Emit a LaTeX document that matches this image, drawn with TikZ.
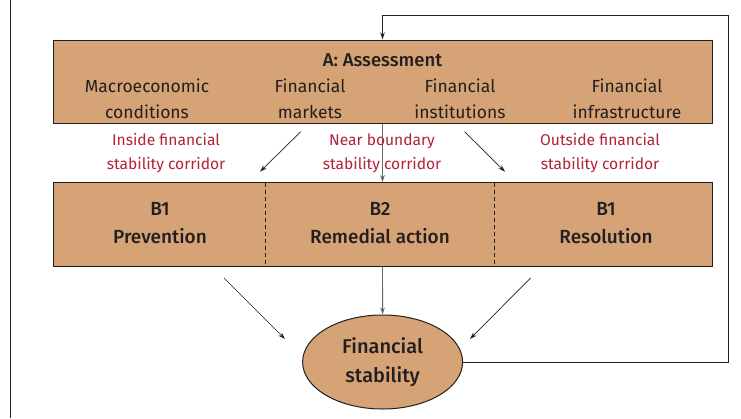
\documentclass[tikz,border=0pt]{standalone}
\usepackage{fontspec}
\setmainfont{Fira Sans}[BoldFont={Fira Sans Medium}]
\usetikzlibrary{arrows.meta,shapes.geometric}
\definecolor{tan}{RGB}{214,163,118}
\definecolor{redtxt}{RGB}{178,34,58}
\definecolor{ink}{RGB}{35,31,32}
\begin{document}
\begin{tikzpicture}[x=1pt,y=-1pt,
  panel/.style={draw=ink,line width=1pt,fill=tan,inner sep=0pt},
  itemtxt/.style={text=ink,font=\fontsize{17.5}{26}\selectfont,align=center,inner sep=0pt},
  headtxt/.style={text=ink,font=\fontsize{18.5}{25}\selectfont\bfseries,align=center,inner sep=0pt},
  btxt/.style={text=ink,font=\fontsize{19}{28}\selectfont\bfseries,align=center,inner sep=0pt},
  redlab/.style={text=redtxt,font=\fontsize{15.6}{24}\selectfont,align=center,inner sep=0pt},
  arr/.style={draw=ink,line width=0.7pt,-{Stealth[length=7pt,width=4.5pt]}},
  grayarr/.style={draw=black!60,line width=0.9pt,-{Stealth[length=7pt,width=4.5pt]}},
  fb/.style={draw=ink,line width=0.8pt}]
\useasboundingbox (0,0) rectangle (741,418);
\fill[white] (0,0) rectangle (741,418);
\draw[ink,line width=0.8pt] (10.5,0) -- (10.5,418);
% boxes
\node[panel,minimum width=659pt,minimum height=83.5pt] (A) at (382.5,81.75) {};
\node[panel,minimum width=659pt,minimum height=83.3pt] (B) at (382.5,224.35) {};
\node[panel,ellipse,minimum width=160pt,minimum height=94pt] (E) at (382.6,362) {};
% dashed dividers
\coordinate (d1t) at (265,182.7); \coordinate (d1b) at (265,266);
\coordinate (d2t) at (494,182.7); \coordinate (d2b) at (494,266);
\draw[ink,line width=0.6pt,dash pattern=on 4pt off 3pt] (d1t) -- (d1b);
\draw[ink,line width=0.6pt,dash pattern=on 4pt off 3pt] (d2t) -- (d2b);
% texts in A
\node[headtxt] (Ah) at (382.5,60) {A: Assessment};
\node[itemtxt] (A1) at (147,99) {Macroeconomic\\conditions};
\node[itemtxt] (A2) at (310,99) {Financial\\markets};
\node[itemtxt] (A3) at (460,99) {Financial\\institutions};
\node[itemtxt] (A4) at (627,99) {Financial\\infrastructure};
% connector A to B (behind label)
\draw[grayarr] (A.south) -- (B.north);
% red labels
\node[redlab] (L1) at (166,153.5) {Inside financial\\stability corridor};
\node[redlab] (L2) at (382,153.5) {Near boundary\\stability corridor};
\node[redlab] (L3) at (600,153.5) {Outside financial\\stability corridor};
% texts in B
\node[btxt] (B1) at (160,223.5) {B1\\Prevention};
\node[btxt] (B2) at (380,223.5) {B2\\Remedial action};
\node[btxt] (B3) at (606,223.5) {B1\\Resolution};
% ellipse text
\node[btxt,font=\fontsize{20}{29}\selectfont\bfseries] (Et) at (382.6,362.5) {Financial\\stability};
% diagonal arrows
\coordinate (s1) at (300.7,131.7); \coordinate (t1) at (260,171.7);
\coordinate (s2) at (464.6,131.7); \coordinate (t2) at (505,171.7);
\coordinate (s3) at (224,278); \coordinate (t3) at (285,339);
\coordinate (s4) at (530.5,278); \coordinate (t4) at (470,339);
\draw[arr] (s1) -- (t1);
\draw[arr] (s2) -- (t2);
\draw[arr] (s3) -- (t3);
\draw[arr] (s4) -- (t4);
\draw[grayarr] (B.south) -- (E.north);
% feedback loop
\coordinate (f1) at (728.8,362);
\coordinate (f2) at (728.8,15.5);
\coordinate (f3) at (382.5,15.5);
\draw[fb,-{Stealth[length=7pt,width=4.5pt]}] (E.east) -- (f1) -- (f2) -- (f3) -- (A.north);
\end{tikzpicture}
\end{document}
